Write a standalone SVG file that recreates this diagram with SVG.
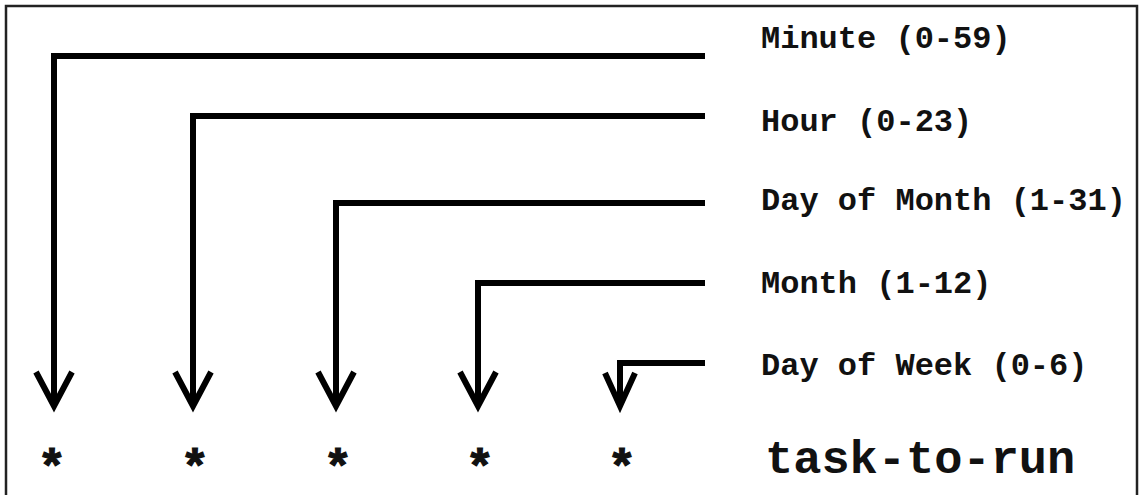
<svg xmlns="http://www.w3.org/2000/svg" width="1141" height="495" viewBox="0 0 1141 495">
<defs>
<style>
.wire{fill:none;stroke:#000;stroke-width:6;stroke-linejoin:miter;stroke-linecap:butt}
.head{fill:none;stroke:#000;stroke-width:6;stroke-linejoin:miter;stroke-linecap:butt}
.lbl{font-family:"Liberation Mono","DejaVu Sans Mono",monospace;font-size:32px;font-weight:bold;fill:#111}
.star{font-family:"Liberation Mono","DejaVu Sans Mono",monospace;font-size:48px;font-weight:bold;fill:#111;stroke:#111;stroke-width:1.2;text-anchor:middle}
.task{font-family:"Liberation Mono","DejaVu Sans Mono",monospace;font-size:47px;font-weight:bold;fill:#111}
</style>
</defs>
<rect x="0" y="0" width="1141" height="495" fill="#fff"/>
<rect x="6" y="6" width="1131" height="520" fill="none" stroke="#222" stroke-width="2.5"/>
<g id="connectors">
<path class="wire" d="M705 56 H54 V405"/>
<path class="head" d="M36 372 L54 406 L72 372"/>
<path class="wire" d="M705 116 H193 V405"/>
<path class="head" d="M175 372 L193 406 L211 372"/>
<path class="wire" d="M705 203 H336 V405"/>
<path class="head" d="M318 372 L336 406 L354 372"/>
<path class="wire" d="M705 283 H478 V405"/>
<path class="head" d="M460 372 L478 406 L496 372"/>
<path class="wire" d="M705 363 H620 V405"/>
<path class="head" d="M605 373 L620 406 L635 373"/>
</g>
<g id="minute"><text class="lbl" x="761" y="48">Minute (0-59)</text><text class="star" x="52" y="483">*</text></g>
<g id="hour"><text class="lbl" x="761" y="131">Hour (0-23)</text><text class="star" x="195" y="483">*</text></g>
<g id="day-of-month"><text class="lbl" x="761" y="210">Day of Month (1-31)</text><text class="star" x="338" y="483">*</text></g>
<g id="month"><text class="lbl" x="761" y="293">Month (1-12)</text><text class="star" x="480" y="483">*</text></g>
<g id="day-of-week"><text class="lbl" x="761" y="375">Day of Week (0-6)</text><text class="star" x="622" y="483">*</text></g>
<g id="task"><text class="task" x="765" y="473">task-to-run</text></g>
</svg>
